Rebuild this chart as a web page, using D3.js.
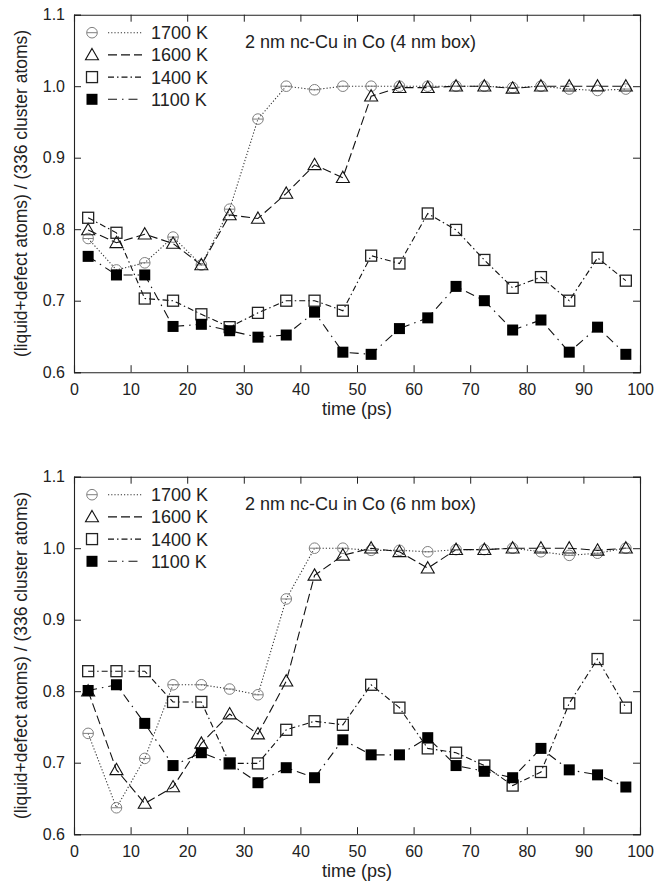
<!DOCTYPE html>
<html>
<head>
<meta charset="utf-8">
<script src="https://cdn.jsdelivr.net/npm/d3@7/dist/d3.min.js"></script>
<style>
  body { margin: 0; background: #fff; }
  svg { display: block; font-family: "Liberation Sans", Arial, sans-serif; }
</style>
</head>
<body>
<div id="chart"></div>
<script>
// --- données ---
const time = [2.5, 7.5, 12.5, 17.5, 22.5, 27.5, 32.5, 37.5, 42.5, 47.5,
              52.5, 57.5, 62.5, 67.5, 72.5, 77.5, 82.5, 87.5, 92.5, 97.5];

const seriesNames = ["1700 K", "1600 K", "1400 K", "1100 K"];
const titles = ["2 nm nc-Cu in Co (4 nm box)", "2 nm nc-Cu in Co (6 nm box)"];

// boîte 4 nm
const top1700 = [0.787, 0.743, 0.753, 0.789, 0.750, 0.828, 0.954, 1.000, 0.995, 1.000, 1.000, 1.000, 1.000, 1.000, 1.000, 0.998, 1.000, 0.996, 0.994, 0.996];
const top1600 = [0.799, 0.781, 0.793, 0.780, 0.750, 0.820, 0.815, 0.850, 0.890, 0.872, 0.986, 0.998, 0.998, 1.000, 1.000, 0.997, 1.000, 1.000, 1.000, 1.000];
const top1400 = [0.816, 0.795, 0.703, 0.700, 0.681, 0.663, 0.683, 0.700, 0.700, 0.686, 0.763, 0.752, 0.822, 0.799, 0.757, 0.718, 0.733, 0.700, 0.760, 0.728];
const top1100 = [0.762, 0.736, 0.736, 0.664, 0.667, 0.658, 0.649, 0.652, 0.684, 0.628, 0.625, 0.661, 0.676, 0.720, 0.700, 0.659, 0.673, 0.628, 0.663, 0.625];

// boîte 6 nm
const bot1700 = [0.741, 0.637, 0.706, 0.809, 0.809, 0.803, 0.795, 0.929, 1.000, 1.000, 0.997, 0.997, 0.995, 0.998, 0.998, 1.000, 0.995, 0.990, 0.993, 1.000];
const bot1600 = [0.800, 0.690, 0.643, 0.666, 0.727, 0.768, 0.740, 0.814, 0.962, 0.990, 1.000, 0.995, 0.972, 0.998, 0.998, 1.000, 1.000, 1.000, 0.997, 1.000];
const bot1400 = [0.828, 0.828, 0.828, 0.785, 0.785, 0.699, 0.699, 0.746, 0.758, 0.753, 0.809, 0.777, 0.720, 0.714, 0.696, 0.668, 0.687, 0.783, 0.845, 0.777];
const bot1100 = [0.801, 0.809, 0.755, 0.696, 0.714, 0.699, 0.672, 0.693, 0.679, 0.732, 0.711, 0.711, 0.735, 0.696, 0.688, 0.679, 0.720, 0.690, 0.683, 0.666];

const xTicks = [0, 10, 20, 30, 40, 50, 60, 70, 80, 90, 100];
const yTicks = [0.6, 0.7, 0.8, 0.9, 1.0, 1.1];

// --- styles ---
const W = 669, H = 885;
const left = 74, right = 640;
const panelTops = [14.7, 476.7];
const panelH = 357.5;

const styles = [
    { dash: "1.2,2", stroke: "#333", marker: "circle" },
    { dash: "9,4", stroke: "#111", marker: "triangle" },
    { dash: "6,3,1.5,3", stroke: "#111", marker: "square" },
    { dash: "9,5,1.5,5", stroke: "#111", marker: "filled" }
];

const svg = d3.select("#chart").append("svg")
    .attr("width", W)
    .attr("height", H);

const x = d3.scaleLinear().domain([0, 100]).range([left, right]);

function drawMarker(g, type, cx, cy) {
    if (type === "circle") {
        g.append("circle").attr("cx", cx).attr("cy", cy).attr("r", 5.3)
            .attr("fill", "none").attr("stroke", "#808080").attr("stroke-width", 1);
        g.append("line").attr("x1", cx - 5.3).attr("x2", cx + 5.3)
            .attr("y1", cy).attr("y2", cy)
            .attr("stroke", "#808080").attr("stroke-width", 1);
    } else if (type === "triangle") {
        g.append("path")
            .attr("d", `M${cx},${cy - 6.5}L${cx + 6.5},${cy + 4.8}L${cx - 6.5},${cy + 4.8}Z`)
            .attr("fill", "none").attr("stroke", "#111").attr("stroke-width", 1.1);
    } else if (type === "square") {
        g.append("rect").attr("x", cx - 5.5).attr("y", cy - 5.5)
            .attr("width", 11).attr("height", 11)
            .attr("fill", "none").attr("stroke", "#222").attr("stroke-width", 1.3);
    } else {
        g.append("rect").attr("x", cx - 5.5).attr("y", cy - 5.5)
            .attr("width", 11).attr("height", 11)
            .attr("fill", "#000");
    }
}

function drawPanel(top, data, title) {
    const y = d3.scaleLinear().domain([0.6, 1.1]).range([top + panelH, top]);
    const g = svg.append("g");

    // axes (ticks vers l'intérieur sur les quatre côtés)
    g.append("g").attr("transform", `translate(0,${top + panelH})`)
        .call(d3.axisBottom(x).tickValues(xTicks).tickSize(-7).tickPadding(11).tickFormat(d3.format("d")));
    g.append("g").attr("transform", `translate(0,${top})`)
        .call(d3.axisTop(x).tickValues(xTicks).tickSize(-7).tickFormat(""));
    g.append("g").attr("transform", `translate(${left},0)`)
        .call(d3.axisLeft(y).tickValues(yTicks).tickSize(-7).tickPadding(9).tickFormat(d3.format(".1f")));
    g.append("g").attr("transform", `translate(${right},0)`)
        .call(d3.axisRight(y).tickValues(yTicks).tickSize(-7).tickFormat(""));

    g.selectAll(".domain").attr("stroke", "#222").attr("stroke-width", 1.1);
    g.selectAll(".tick line").attr("stroke", "#222").attr("stroke-width", 1);
    g.selectAll(".tick text").attr("font-size", 16).attr("fill", "#222")
        .attr("font-family", "Liberation Sans, Arial, sans-serif");

    // étiquettes d'axes
    g.append("text")
        .attr("x", (left + right) / 2).attr("y", top + panelH + 43)
        .attr("text-anchor", "middle").attr("font-size", 18).attr("fill", "#222")
        .text("time (ps)");
    g.append("text")
        .attr("transform", `translate(27,${top + panelH / 2}) rotate(-90)`)
        .attr("text-anchor", "middle").attr("font-size", 17.5).attr("fill", "#222")
        .text("(liquid+defect atoms) / (336 cluster atoms)");

    // titre du panneau
    g.append("text")
        .attr("x", 245).attr("y", top + 33.5)
        .attr("font-size", 18).attr("fill", "#222")
        .text(title);

    const line = d3.line().x((d, i) => x(time[i])).y(d => y(d));

    // courbes puis marqueurs
    data.forEach((vals, k) => {
        const st = styles[k];
        g.append("path")
            .datum(vals)
            .attr("d", line)
            .attr("fill", "none")
            .attr("stroke", st.stroke)
            .attr("stroke-width", 1.1)
            .attr("stroke-dasharray", st.dash);
    });
    data.forEach((vals, k) => {
        const mg = g.append("g");
        vals.forEach((v, i) => drawMarker(mg, styles[k].marker, x(time[i]), y(v)));
    });

    // légende
    seriesNames.forEach((name, k) => {
        const ly = top + 18 + k * 22.2;
        const lg = g.append("g");
        drawMarker(lg, styles[k].marker, 92, ly);
        lg.append("line").attr("x1", 108).attr("x2", 142).attr("y1", ly).attr("y2", ly)
            .attr("stroke", styles[k].stroke).attr("stroke-width", 1.1)
            .attr("stroke-dasharray", styles[k].dash);
        lg.append("text").attr("x", 151).attr("y", ly + 6.5)
            .attr("font-size", 18).attr("fill", "#222").text(name);
    });
}

drawPanel(panelTops[0], [top1700, top1600, top1400, top1100], titles[0]);
drawPanel(panelTops[1], [bot1700, bot1600, bot1400, bot1100], titles[1]);
</script>
</body>
</html>
